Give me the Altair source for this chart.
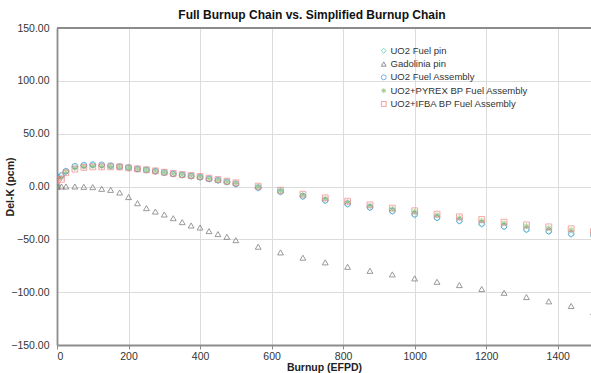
import altair as alt
import pandas as pd

burnup = [0, 1, 12.5, 25, 50, 75, 100, 125, 150, 175, 200, 225, 250, 275, 300, 325, 350, 375,
          400, 425, 450, 475, 500, 562.5, 625, 687.5, 750, 812.5, 875, 937.5, 1000, 1062.5,
          1125, 1187.5, 1250, 1312.5, 1375, 1437.5, 1500]

uo2_pin = [0, 8.8, 10.2, 14.2, 18.9, 19.9, 20.4, 20.1, 19.5, 18.6, 17.7, 16.3, 15.4, 14.1, 12.8,
           11.6, 10.6, 9.5, 8.3, 6.8, 5.5, 3.9, 2.0, -1.6, -5.4, -9.8, -13.6, -17.0, -20.3,
           -23.7, -26.9, -30.0, -33.0, -35.8, -38.4, -41.2, -43.0, -45.4, -47.0]
gad_pin = [0, 0, 0, 0, 0, -0.3, -0.6, -2.2, -3.2, -5.7, -10.0, -15.8, -20.5, -23.7, -26.5,
           -30.0, -33.7, -36.9, -38.8, -42.2, -45.0, -47.6, -50.8, -57.0, -62.4, -67.4, -71.8,
           -76.0, -79.8, -83.2, -87.0, -90.2, -93.3, -97.0, -100.6, -104.6, -108.7, -113.1, -119.0]
uo2_fa = [0, 9.1, 10.5, 14.5, 19.2, 20.2, 20.8, 20.5, 19.8, 18.9, 18.0, 16.6, 15.8, 14.5, 13.2,
          12.0, 11.0, 10.0, 8.8, 7.3, 6.0, 4.5, 2.6, -1.0, -4.8, -9.2, -13.0, -16.4, -19.6,
          -23.0, -26.2, -29.3, -32.2, -35.0, -37.5, -40.4, -42.0, -44.5, -46.0]
pyrex_fa = [0, 7.5, 8.0, 13.5, 17.2, 18.6, 19.2, 19.1, 18.9, 18.5, 17.6, 16.5, 15.6, 14.5, 13.2,
            12.0, 11.0, 10.0, 9.0, 7.4, 6.0, 4.4, 2.9, -0.3, -4.0, -7.9, -11.4, -14.6, -18.1,
            -21.2, -23.8, -27.0, -29.6, -32.2, -34.7, -37.3, -39.3, -41.1, -43.8]
ifba_fa = [0, 6.6, 6.8, 13.0, 16.4, 18.0, 18.6, 18.6, 18.6, 18.5, 17.6, 16.7, 15.8, 14.8, 13.5,
           12.3, 11.3, 10.4, 9.5, 7.9, 6.6, 5.0, 3.5, 0.3, -3.5, -7.3, -10.7, -13.9, -17.4,
           -20.5, -23.0, -26.2, -28.7, -31.2, -33.7, -36.3, -38.2, -40.0, -42.6]

series_names = ["UO2 Fuel pin", "Gadolinia pin", "UO2 Fuel Assembly",
                "UO2+PYREX BP Fuel Assembly", "UO2+IFBA BP Fuel Assembly"]
series_values = [uo2_pin, gad_pin, uo2_fa, pyrex_fa, ifba_fa]
x_ticks = [0, 200, 400, 600, 800, 1000, 1200, 1400]
y_ticks = [-150, -100, -50, 0, 50, 100, 150]

rows = []
for name, vals in zip(series_names, series_values):
    for b, v in zip(burnup, vals):
        rows.append({"Burnup": b, "DelK": v, "Series": name})
df = pd.DataFrame(rows)

colors = ["#3fc7a6", "#606060", "#3f8fd8", "#7fb55a", "#f07878"]
asterisk = "M-1,0L1,0M0,-1L0,1M-0.75,-0.75L0.75,0.75M-0.75,0.75L0.75,-0.75"
shapes = ["diamond", "triangle-up", "circle", asterisk, "square"]

W, H = 534, 317
FONT = "Liberation Sans"

points = alt.Chart(df).mark_point(filled=False, size=34, strokeWidth=0.9, clip=True).encode(
    x=alt.X("Burnup:Q", scale=alt.Scale(domain=[0, 1493], nice=False),
            axis=alt.Axis(values=x_ticks, title="Burnup (EFPD)", format="d",
                          titleX=W / 2, titleY=17, labelPadding=2)),
    y=alt.Y("DelK:Q", scale=alt.Scale(domain=[-150, 150], nice=False),
            axis=alt.Axis(values=y_ticks, format=".2f", title="Del-K (pcm)",
                          ticks=False, labelPadding=8, titleX=-42)),
    color=alt.Color("Series:N", scale=alt.Scale(domain=series_names, range=colors),
                    legend=alt.Legend(title=None, orient="none", legendX=322, legendY=18)),
    shape=alt.Shape("Series:N", scale=alt.Scale(domain=series_names, range=shapes), legend=None),
)

top_line = alt.Chart(df).mark_rule(color="#8c8c8c", strokeWidth=1.5).encode(
    x=alt.value(0), x2=alt.value(W), y=alt.value(0)
)

chart = alt.layer(points, top_line).properties(
    width=W, height=H,
    title=alt.TitleParams("Full Burnup Chain vs. Simplified Burnup Chain",
                          fontSize=12, fontWeight="bold", font=FONT, color="#111",
                          anchor="middle", offset=1, dx=-12),
    autosize=alt.AutoSizeParams(type="none"),
    padding={"left": 57, "top": 28, "right": 0, "bottom": 28},
).configure_view(stroke=None).configure_axis(
    labelFont=FONT, titleFont=FONT, labelFontSize=10.5, titleFontSize=10.5,
    labelColor="#333", titleColor="#222", titleFontWeight="bold",
    gridColor="#dcdcdc", gridWidth=1, domainColor="#8c8c8c", domainWidth=1.8,
    tickColor="#8c8c8c", tickSize=4,
).configure_legend(
    labelFont=FONT, labelFontSize=9.5, labelColor="#333", symbolSize=24,
    symbolStrokeWidth=1, rowPadding=2.3, labelOffset=2, symbolType="circle",
)

chart.save("out.html", embed_options={"renderer": "svg", "actions": False})
